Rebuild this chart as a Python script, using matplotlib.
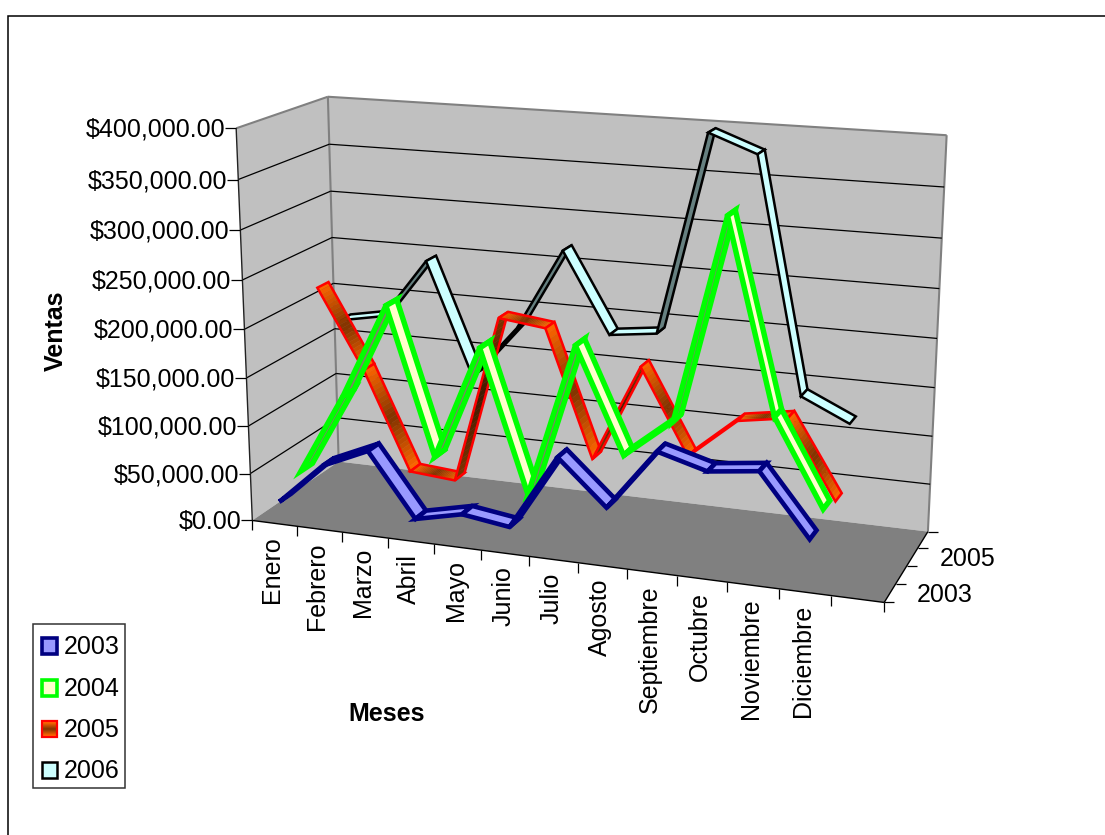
import numpy as np
import matplotlib
matplotlib.use('Agg')
import matplotlib.pyplot as plt
from matplotlib.patches import Polygon, Rectangle

plt.rcParams['font.family'] = ['Liberation Sans', 'DejaVu Sans']

# Sales per month and year
months = ['Enero', 'Febrero', 'Marzo', 'Abril', 'Mayo', 'Junio', 'Julio', 'Agosto',
          'Septiembre', 'Octubre', 'Noviembre', 'Diciembre']
years = ['2003', '2004', '2005', '2006']
ventas_2003 = [19000, 63000, 84000, 19000, 30000, 23000, 100000, 55000, 117000, 103000, 109000, 48000]
ventas_2004 = [36000, 121000, 220000, 68000, 186000, 40000, 198000, 92000, 132000, 337000, 147000, 61000]
ventas_2005 = [218000, 135000, 31000, 27000, 204000, 198000, 67000, 168000, 81000, 123000, 131000, 52000]
ventas_2006 = [171000, 180000, 243000, 125000, 181000, 266000, 183000, 189000, 395000, 377000, 139000, 116000]
value_ticks = [0, 50000, 100000, 150000, 200000, 250000, 300000, 350000, 400000]
depth_labels = {'2003': 0, '2005': 2}

N_CATS = 13  # the category axis keeps one empty slot at the end
N_DEPTH = 4
V_MAX = 400000
RIBBON = 0.13

# Box corners on the canvas in pixels, (x, value, depth) -> (px, py)
box = {(0, 0, 0): (252, 520), (1, 0, 0): (883, 602), (0, 0, 1): (339, 462), (1, 0, 1): (929, 532),
       (0, 1, 0): (236, 128), (1, 1, 0): (904, 175), (0, 1, 1): (328, 97), (1, 1, 1): (945, 134)}

# Fit a perspective camera to the box
rows, rhs = [], []
for (a, b, c), (px, py) in box.items():
    rows.append([a, b, c, 1, 0, 0, 0, 0, -px * a, -px * b, -px * c])
    rhs.append(px)
    rows.append([0, 0, 0, 0, a, b, c, 1, -py * a, -py * b, -py * c])
    rhs.append(py)
cam = np.linalg.lstsq(np.array(rows, float), np.array(rhs, float), rcond=None)[0]
cam = np.append(cam, 1).reshape(3, 4)


def project(x, value, depth):
    h = cam @ np.array([x, value / V_MAX, depth, 1.0])
    return h[:2] / h[2]


def darker(rgb, k=0.5):
    return tuple(c * k for c in rgb)


def lerp(a, b, t):
    return tuple(p + (q - p) * t for p, q in zip(a, b))


ORANGE = (1.0, 0.4, 0.0)
BROWN = (0.5, 0.2, 0.0)

styles = [
    {'edge': '#000080', 'fill': (0.6, 0.6, 1.0), 'lw': 3.3},
    {'edge': '#00FF00', 'fill': (1.0, 1.0, 0.8), 'lw': 3.9},
    {'edge': '#FF0000', 'fill': None, 'lw': 1.8},
    {'edge': '#000000', 'fill': (0.8, 1.0, 1.0), 'lw': 1.8},
]
series = [ventas_2003, ventas_2004, ventas_2005, ventas_2006]

fig = plt.figure(figsize=(11.05, 8.35), dpi=100)
ax = fig.add_axes([0, 0, 1, 1])
ax.set_xlim(0, 1105)
ax.set_ylim(835, 0)
ax.axis('off')

# chart area frame
ax.add_patch(Rectangle((7.5, 15.5), 1200, 1000, fc='white', ec='black', lw=1.1))


def quad(p, q, r, s, **kw):
    ax.add_patch(Polygon([p, q, r, s], closed=True, **kw))


# walls and floor
quad(project(0, 0, 0), project(0, V_MAX, 0), project(0, V_MAX, 1), project(0, 0, 1),
     fc='#C0C0C0', ec='none')
quad(project(0, 0, 1), project(0, V_MAX, 1), project(1, V_MAX, 1), project(1, 0, 1),
     fc='#C0C0C0', ec='none')
quad(project(0, 0, 0), project(1, 0, 0), project(1, 0, 1), project(0, 0, 1),
     fc='#808080', ec='none')


def seg(p, q, color, lw, z=3):
    ax.plot([p[0], q[0]], [p[1], q[1]], color=color, lw=lw, solid_capstyle='butt', zorder=z)


# wall outlines
seg(project(0, V_MAX, 0), project(0, V_MAX, 1), '#808080', 1.5)
seg(project(0, V_MAX, 1), project(1, V_MAX, 1), '#808080', 1.5)
seg(project(1, V_MAX, 1), project(1, 0, 1), '#808080', 1.5)
seg(project(0, V_MAX, 1), project(0, 0, 1), '#808080', 1.5)

# gridlines on both walls
for val in value_ticks[1:-1]:
    seg(project(0, val, 0), project(0, val, 1), 'black', 0.9)
    seg(project(0, val, 1), project(1, val, 1), 'black', 0.9)

# axis lines and ticks
seg(project(0, 0, 0), project(0, V_MAX, 0), '#222222', 1.0)
seg(project(0, 0, 0), project(1, 0, 0), 'black', 1.0)
seg(project(1, 0, 0), project(1, 0, 1), 'black', 1.0)

for val in value_ticks:
    p = project(0, val, 0)
    seg(p + [-11, 0], p, 'black', 0.9)
    ax.text(p[0] - 11, p[1] + 1.5, f'${val:,.2f}', ha='right', va='center', fontsize=18)

for i in range(N_CATS + 1):
    p = project(i / N_CATS, 0, 0)
    seg(p, p + [0, 10], 'black', 0.9)

for i, name in enumerate(months):
    p = project((i + 0.5) / N_CATS, 0, 0)
    ax.text(p[0] - 2, p[1] + 13, name, rotation=90, ha='center', va='top', fontsize=18)

for i in range(N_DEPTH + 1):
    p = project(1, 0, i / N_DEPTH)
    seg(p, p + [10, 0], 'black', 0.9)

for name, k in depth_labels.items():
    p = project(1, 0, (k + 0.5) / N_DEPTH)
    ax.text(p[0] + 27, p[1] + 2, name, ha='left', va='center', fontsize=18)

# ribbons, back series first
z = 10
for k in reversed(range(len(series))):
    vals = series[k]
    st = styles[k]
    w = (k + 0.5) / N_DEPTH
    for i in range(len(vals) - 1):
        x0, x1 = (i + 0.5) / N_CATS, (i + 1.5) / N_CATS
        a = project(x0, vals[i], w - RIBBON / 2)
        b = project(x1, vals[i + 1], w - RIBBON / 2)
        c = project(x1, vals[i + 1], w + RIBBON / 2)
        d = project(x0, vals[i], w + RIBBON / 2)
        along = b - a
        across = d - a
        under = along[0] * across[1] - along[1] * across[0] > 0
        if st['fill'] is None:
            # 2005 fades orange-brown-orange along each segment
            steps = 24
            for s in range(steps):
                t0, t1 = s / steps, (s + 1) / steps
                mix = 1 - abs(t0 + t1 - 1)
                col = lerp(ORANGE, BROWN, mix)
                if under:
                    col = darker(col)
                ax.add_patch(Polygon([a + along * t0, a + along * t1, d + (c - d) * t1, d + (c - d) * t0],
                                     closed=True, fc=col, ec=col, lw=0.3, zorder=z))
        else:
            col = darker(st['fill']) if under else st['fill']
            ax.add_patch(Polygon([a, b, c, d], closed=True, fc=col, ec='none', zorder=z))
        ax.add_patch(Polygon([a, b, c, d], closed=True, fc='none', ec=st['edge'], lw=st['lw'],
                             joinstyle='miter', zorder=z + 0.5))
        z += 1

# axis titles
ax.text(56, 331, 'Ventas', rotation=90, ha='center', va='center', fontsize=18, fontweight='bold')
ax.text(387, 714, 'Meses', ha='center', va='center', fontsize=18, fontweight='bold')

# legend
ax.add_patch(Rectangle((33, 624), 92, 164, fc='white', ec='#333333', lw=1.1, zorder=500))
for k, (name, cy) in enumerate(zip(years, [646, 688, 729, 770])):
    st = styles[k]
    if st['fill'] is None:
        grad = [0, 0.5, 1, 0.5, 0]
        cols = np.array([lerp(ORANGE, BROWN, g) for g in grad])[:, None, :]
        ax.imshow(cols, extent=(42, 57, cy + 8, cy - 8), aspect='auto', zorder=501, interpolation='bilinear')
        ax.set_xlim(0, 1105)
        ax.set_ylim(835, 0)
        ax.add_patch(Rectangle((42, cy - 8), 15, 16, fc='none', ec=st['edge'], lw=1.6, zorder=502))
    else:
        ax.add_patch(Rectangle((42, cy - 8), 15, 16, fc=st['fill'], ec=st['edge'], lw=min(st['lw'], 2.6), zorder=502))
    ax.text(64, cy + 1, name, ha='left', va='center', fontsize=18, zorder=503)

fig.savefig('out.png', dpi=100)
